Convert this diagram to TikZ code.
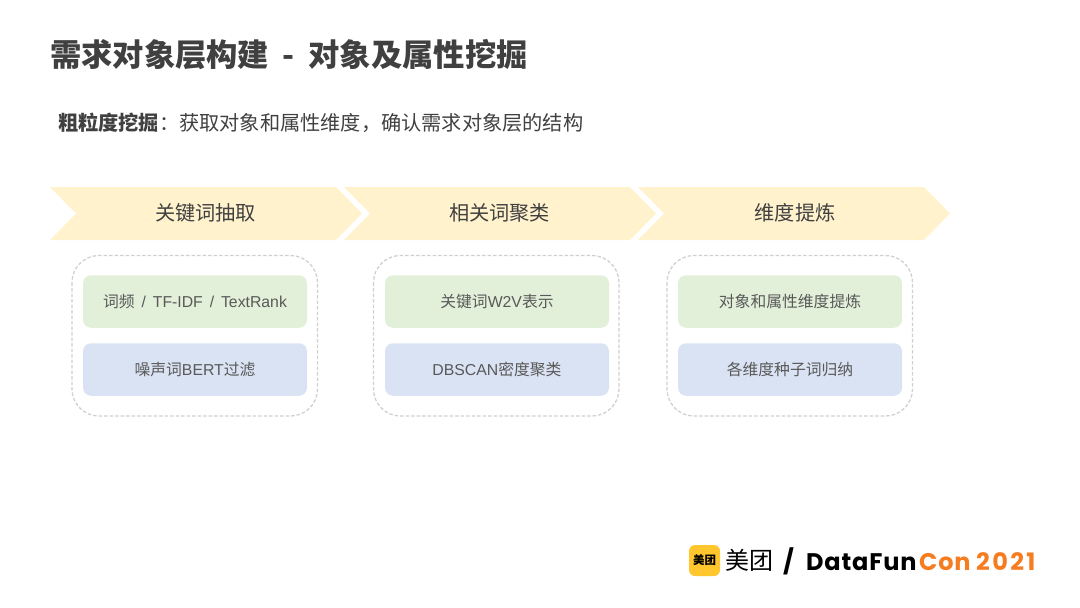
\documentclass[tikz,border=0pt]{standalone}
\usepackage{fontspec}
\setmainfont{Liberation Sans}
\newfontfamily\cjk{Noto Sans CJK SC}
\newfontfamily\logofont[LetterSpace=3.5]{Poppins}
\newfontfamily\annofont[LetterSpace=10]{Poppins}
\definecolor{testo}{HTML}{404040}
\definecolor{testochiaro}{HTML}{595959}
\definecolor{freccia}{HTML}{FFF2CC}
\definecolor{verde}{HTML}{E2F0D9}
\definecolor{azzurro}{HTML}{DAE3F3}
\definecolor{bordo}{HTML}{D0D0D0}
\definecolor{giallo}{HTML}{FFC62E}
\definecolor{arancio}{HTML}{F57C1F}
\tikzset{
  chevron/.style={fill=freccia},
  gruppo/.style={draw=bordo,line width=1.3pt,dash pattern=on 3.5pt off 2pt,rounded corners=27pt},
  scatola/.style={minimum width=224pt,minimum height=52.5pt,rounded corners=8pt,inner sep=0pt,
    text=testochiaro,font=\fontsize{15.8}{18}\selectfont},
  titolofreccia/.style={text=testo,font=\cjk\fontsize{20.2}{24}\selectfont,inner sep=0pt},
  marchiologo/.style={anchor=base west,inner sep=0pt,font=\logofont\bfseries\fontsize{24}{28}\selectfont},
}
\begin{document}
\begin{tikzpicture}[x=1pt,y=-1pt]
  \useasboundingbox (0,0) rectangle (1080,608);

  \node[anchor=west,inner sep=0pt,text=testo,font=\cjk\bfseries\fontsize{31.3}{36}\selectfont]
    (titolo) at (50,55) {需求对象层构建\hspace{6pt} - \hspace{7pt}对象及属性挖掘};
  \node[anchor=west,inner sep=0pt,text=testo,font=\cjk\fontsize{20.2}{24}\selectfont]
    (sottotitolo) at (58,123) {{\bfseries 粗粒度挖掘}：获取对象和属性维度，确认需求对象层的结构};

  % frecce
  \foreach \x in {50,344,638}{
    \fill[chevron] (\x,187) -- ++(286,0) -- ++(26,26.5) -- ++(-26,26.5) -- ++(-286,0)
      -- ++(26,-26.5) -- cycle;
  }
  \node[titolofreccia] (fase1) at (205.5,213) {关键词抽取};
  \node[titolofreccia] (fase2) at (499.5,213) {相关词聚类};
  \node[titolofreccia] (fase3) at (795,213) {维度提炼};

  % gruppi
  \draw[gruppo] (72,255.5) rectangle (317.5,416);
  \draw[gruppo] (373.5,255.5) rectangle (619,416);
  \draw[gruppo] (667,255.5) rectangle (912.5,416);

  \node[scatola,fill=verde] (a1) at (195,301.5) {{\cjk 词频}\hspace{2.5pt} / \hspace{2.5pt}TF-IDF\hspace{2.5pt} / \hspace{2.5pt}TextRank};
  \node[scatola,fill=azzurro] (a2) at (195,369.5) {{\cjk 噪声词}BERT{\cjk 过滤}};
  \node[scatola,fill=verde] (b1) at (497,301.5) {{\cjk 关键词}W2V{\cjk 表示}};
  \node[scatola,fill=azzurro] (b2) at (497,369.5) {DBSCAN{\cjk 密度聚类}};
  \node[scatola,fill=verde] (c1) at (790,301.5) {{\cjk 对象和属性维度提炼}};
  \node[scatola,fill=azzurro] (c2) at (790,369.5) {{\cjk 各维度种子词归纳}};

  % logo
  \node[fill=giallo,rounded corners=6pt,minimum width=31pt,minimum height=31pt,inner sep=0pt,
    font=\cjk\bfseries\fontsize{11.5}{13}\selectfont] (icona) at (704.5,560.5) {美团};
  \node[anchor=west,inner sep=0pt,font=\cjk\fontsize{24}{28}\selectfont] (marchio) at (725,560.5) {美团};
  \node[marchiologo] (barra) at (783,570) {/};
  \node[marchiologo] (dati) at (806,570) {DataFun};
  \node[marchiologo,text=arancio] (con) at (919,570) {Con};
  \node[marchiologo,text=arancio,font=\annofont\bfseries\fontsize{24}{28}\selectfont] (anno) at (976,570) {2021};
\end{tikzpicture}
\end{document}
